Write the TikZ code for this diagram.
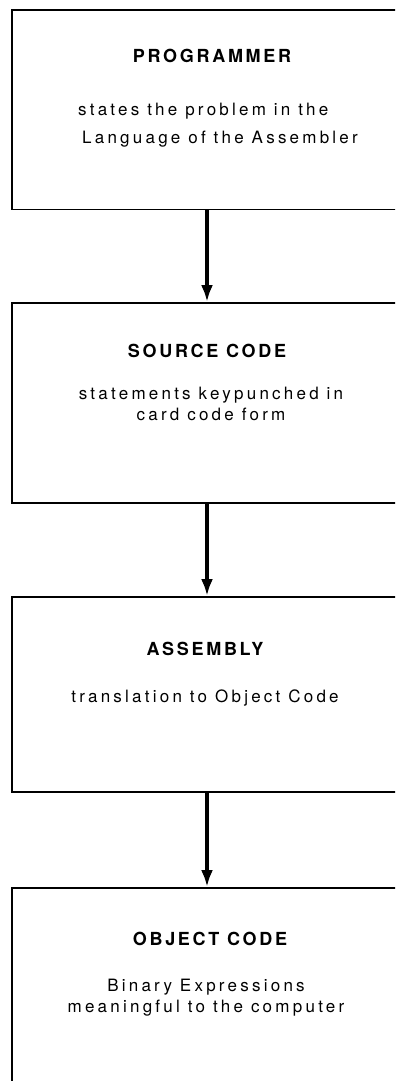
\documentclass[tikz,border=0pt]{standalone}
\usepackage{fontspec}
\setmainfont{TeX Gyre Heros}
\newfontfamily\headfont[LetterSpace=15]{TeX Gyre Heros}
\newfontfamily\remarkfont[LetterSpace=19]{TeX Gyre Heros}
\usepackage{tikz}
\usetikzlibrary{arrows.meta}

\begin{document}
\begin{tikzpicture}[x=1bp, y=-1bp,
			stage/.style={draw=black, line width=1.9bp, minimum width=390bp, inner sep=0pt},
			heading/.style={anchor=base, inner sep=0pt, font=\headfont\bfseries\fontsize{18bp}{22bp}\selectfont},
			remark/.style={anchor=base, inner sep=0pt, align=center, font=\remarkfont\fontsize{17bp}{20.5bp}\selectfont},
			flow/.style={draw=black, line width=3.4bp, -{Latex[length=17bp,width=12bp]}}
			]
			\useasboundingbox (0,0) rectangle (395,1081);
			\clip (0,0) rectangle (395,1081);
			
			%% Boxes
			\node[stage, minimum height=199.5bp] (prog) at (207,109.75) {};
			\node[stage, minimum height=200bp] (source) at (207,403) {};
			\node[stage, minimum height=195bp] (asm) at (207,694.5) {};
			\node[stage, minimum height=200bp] (object) at (207,988) {};
			
			%% Texts (base = last line)
			\node[heading] (progtitle) at (212,62) {PROGRAMMER};
			\node[remark, anchor=base west, align=left] (progtext) at (78,143) {states the problem in the\\[7.5bp]\hspace*{4bp}Language of the Assembler};
			
			\node[heading] (sourcetitle) at (207,357) {SOURCE CODE};
			\node[remark] (sourcetext) at (211,420) {statements keypunched in\\card code form};
			
			\node[heading] (asmtitle) at (205,655) {ASSEMBLY};
			\node[remark] (asmtext) at (205,702) {translation to Object Code};
			
			\node[heading] (objecttitle) at (210,945) {OBJECT CODE};
			\node[remark] (objecttext) at (206,1012) {Binary Expressions\\meaningful to the computer};
			
			%% Arrows
			\draw[flow] (prog.south) -- (source.north);
			\draw[flow] (source.south) -- (asm.north);
			\draw[flow] (asm.south) -- (object.north);
			
\end{tikzpicture}
\end{document}
